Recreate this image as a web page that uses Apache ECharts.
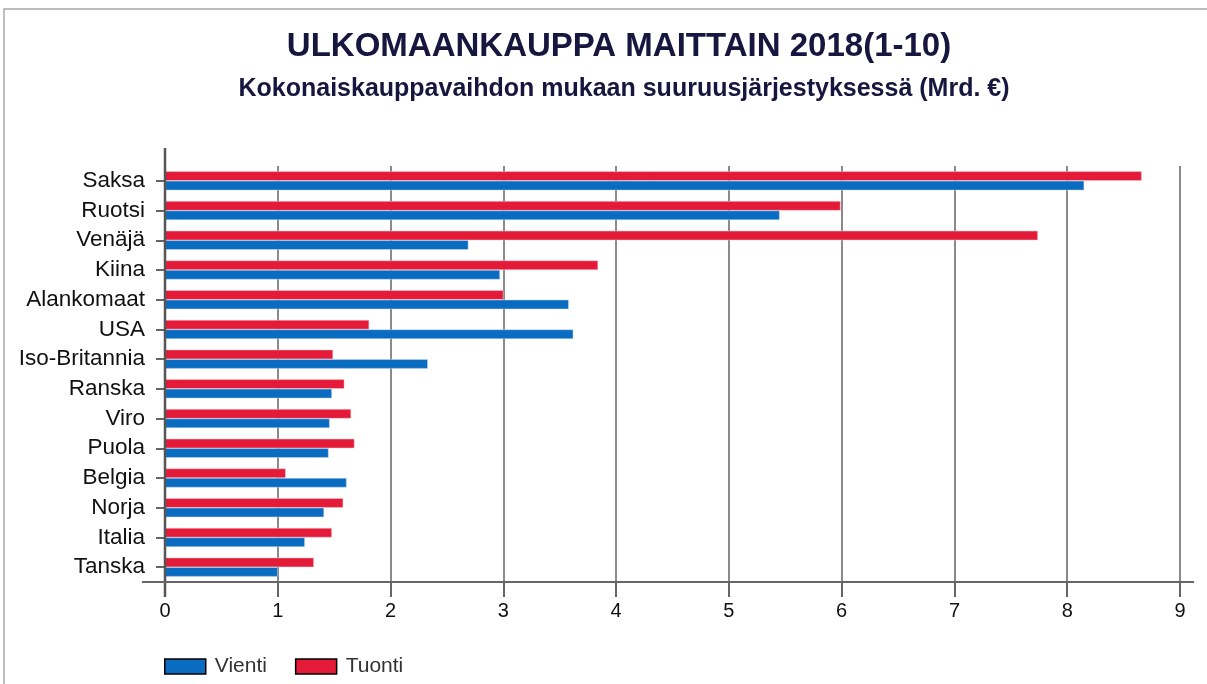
<!DOCTYPE html>
<html>
<head>
<meta charset="utf-8">
<script src="https://cdn.jsdelivr.net/npm/echarts@6/dist/echarts.min.js"></script>
<style>
  html, body { margin: 0; padding: 0; background: #fff; }
  #chart { width: 1207px; height: 684px; }
</style>
</head>
<body>
<div id="chart"></div>
<script>
// maat ylhäältä alas
const countries = ['Saksa', 'Ruotsi', 'Venäjä', 'Kiina', 'Alankomaat', 'USA', 'Iso-Britannia',
    'Ranska', 'Viro', 'Puola', 'Belgia', 'Norja', 'Italia', 'Tanska']
const vienti = [8.15, 5.45, 2.69, 2.97, 3.58, 3.62, 2.33, 1.48, 1.46, 1.45, 1.61, 1.41, 1.24, 1.00]
const tuonti = [8.66, 5.99, 7.74, 3.84, 3.00, 1.81, 1.49, 1.59, 1.65, 1.68, 1.07, 1.58, 1.48, 1.32]
const xTicks = [0, 1, 2, 3, 4, 5, 6, 7, 8, 9]

const FONT = 'Liberation Sans, Arial, sans-serif'
const BLUE = '#0a6cc0'
const RED = '#e31a38'

const myChart = echarts.init(document.getElementById('chart'))

myChart.setOption({
    backgroundColor: '#fff',
    animation: false,
    textStyle: { fontFamily: FONT },
    grid: {
        left: 165,
        right: 27,
        top: 166,
        bottom: 102
    },
    legend: {
        data: ['Vienti', 'Tuonti'],
        left: 159,
        top: 651,
        icon: 'rect',
        itemWidth: 41,
        itemHeight: 15,
        itemGap: 28,
        itemStyle: { borderColor: '#000', borderWidth: 1.5 },
        textStyle: { fontSize: 21, color: '#333', fontFamily: FONT, padding: [0, 0, 0, 4] }
    },
    xAxis: {
        type: 'value',
        min: xTicks[0],
        max: xTicks[xTicks.length - 1],
        interval: 1,
        axisLine: { show: false },
        axisTick: {
            show: true,
            length: 15,
            lineStyle: { color: '#666', width: 2 }
        },
        axisLabel: {
            fontSize: 20,
            color: '#111',
            margin: 19,
            fontFamily: FONT
        },
        splitLine: {
            show: true,
            lineStyle: { color: '#8a8a8a', width: 2 }
        }
    },
    yAxis: {
        type: 'category',
        inverse: true,
        data: countries,
        axisLine: { show: false },
        axisTick: {
            show: true,
            alignWithLabel: true,
            length: 9,
            lineStyle: { color: '#666', width: 2 }
        },
        axisLabel: {
            interval: 0,
            fontSize: 22.5,
            color: '#111',
            margin: 20,
            fontFamily: FONT
        }
    },
    series: [
        {
            name: 'Tuonti',
            type: 'bar',
            data: tuonti,
            barWidth: 9.5,
            barGap: '0%',
            itemStyle: { color: RED, borderColor: '#fbd0d6', borderWidth: 0.5 },
            z: 3
        },
        {
            name: 'Vienti',
            type: 'bar',
            data: vienti,
            barWidth: 9.5,
            barGap: '0%',
            itemStyle: { color: BLUE, borderColor: '#c8dcf0', borderWidth: 0.5 },
            z: 3
        }
    ],
    graphic: [
        // kehys
        {
            type: 'rect',
            shape: { x: 4, y: 9, width: 1260, height: 720 },
            style: { fill: 'none', stroke: '#a8a8a8', lineWidth: 1.5 },
            silent: true
        },
        {
            type: 'text',
            x: 619,
            y: 47,
            style: {
                text: 'ULKOMAANKAUPPA MAITTAIN 2018(1-10)',
                font: 'bold 33px ' + FONT,
                fill: '#16163e',
                align: 'center',
                verticalAlign: 'middle'
            }
        },
        {
            type: 'text',
            x: 624,
            y: 89,
            style: {
                text: 'Kokonaiskauppavaihdon mukaan suuruusjärjestyksessä (Mrd. €)',
                font: 'bold 25px ' + FONT,
                fill: '#16163e',
                align: 'center',
                verticalAlign: 'middle'
            }
        },
        // akselit jatkuvat yli piirtoalueen
        {
            type: 'line',
            shape: { x1: 165, y1: 148, x2: 165, y2: 597 },
            style: { stroke: '#555', lineWidth: 2.5 },
            z: 10
        },
        {
            type: 'line',
            shape: { x1: 142, y1: 582, x2: 1194, y2: 582 },
            style: { stroke: '#666', lineWidth: 2 },
            z: 10
        }
    ]
})
</script>
</body>
</html>
